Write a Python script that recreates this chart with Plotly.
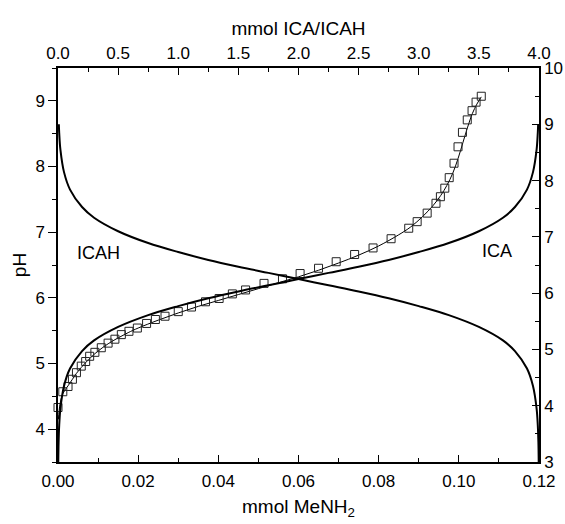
import plotly.graph_objects as go

# Titration data: mmol MeNH2 added vs measured pH
mmol_menh2 = [0.0000, 0.0012, 0.0025, 0.0036, 0.0046, 0.0058, 0.0069, 0.0079, 0.0092, 0.0108,
              0.0125, 0.0142, 0.0158, 0.0177, 0.0198, 0.0221, 0.0243, 0.0267, 0.0300, 0.0333,
              0.0368, 0.0402, 0.0435, 0.0468, 0.0514, 0.0560, 0.0604, 0.0650, 0.0694, 0.0740,
              0.0786, 0.0831, 0.0875, 0.0896, 0.0921, 0.0943, 0.0954, 0.0965, 0.0976, 0.0988,
              0.0998, 0.1009, 0.1021, 0.1033, 0.1043, 0.1056]
ph_measured = [4.33, 4.57, 4.65, 4.76, 4.86, 4.96, 5.03, 5.11, 5.17, 5.24,
               5.31, 5.37, 5.44, 5.49, 5.54, 5.61, 5.67, 5.72, 5.79, 5.86,
               5.94, 5.99, 6.06, 6.12, 6.22, 6.29, 6.37, 6.45, 6.55, 6.66,
               6.76, 6.90, 7.06, 7.16, 7.29, 7.44, 7.54, 7.67, 7.83, 8.05,
               8.30, 8.52, 8.71, 8.85, 8.98, 9.07]

# Fitted titration curve
fit_x = [0.0001, 0.0005, 0.0012, 0.0025, 0.0036, 0.0046, 0.0058, 0.0070, 0.0085, 0.0100,
         0.0125, 0.0150, 0.0175, 0.0200, 0.0250, 0.0300, 0.0350, 0.0400, 0.0450, 0.0500,
         0.0550, 0.0600, 0.0650, 0.0700, 0.0750, 0.0800, 0.0850, 0.0880, 0.0910, 0.0935,
         0.0955, 0.0970, 0.0985, 0.0998, 0.1010, 0.1022, 0.1034, 0.1045, 0.1056]
fit_ph = [4.15, 4.38, 4.54, 4.66, 4.76, 4.85, 4.94, 5.02, 5.11, 5.19,
          5.30, 5.39, 5.47, 5.54, 5.66, 5.77, 5.87, 5.96, 6.05, 6.14,
          6.23, 6.32, 6.42, 6.53, 6.65, 6.79, 6.96, 7.08, 7.24, 7.40,
          7.56, 7.71, 7.90, 8.12, 8.36, 8.60, 8.81, 8.95, 9.06]

# Species curves: mmol ICA/ICAH (top axis) vs pH (right axis)
ica_x = [0.0023, 0.005, 0.01, 0.02, 0.05, 0.1, 0.2, 0.3, 0.5, 0.75,
         1.0, 1.25, 1.5, 1.75, 2.0, 2.25, 2.5, 2.75, 3.0, 3.25,
         3.5, 3.7, 3.8, 3.9, 3.95, 3.98, 3.99, 3.993]
ica_ph = [3.00, 3.35, 3.65, 3.95, 4.35, 4.66, 4.97, 5.16, 5.40, 5.61,
          5.77, 5.91, 6.03, 6.14, 6.25, 6.36, 6.47, 6.59, 6.73, 6.89,
          7.10, 7.34, 7.53, 7.84, 8.15, 8.55, 8.85, 9.00]
icah_x = [0.007, 0.01, 0.02, 0.05, 0.1, 0.2, 0.3, 0.5, 0.75, 1.0,
          1.25, 1.5, 1.75, 2.0, 2.25, 2.5, 2.75, 3.0, 3.25, 3.5,
          3.7, 3.8, 3.9, 3.95, 3.98, 3.99, 3.995, 3.9977]
icah_ph = [9.00, 8.85, 8.55, 8.15, 7.84, 7.53, 7.34, 7.10, 6.89, 6.73,
           6.59, 6.47, 6.36, 6.25, 6.14, 6.03, 5.91, 5.77, 5.61, 5.40,
           5.16, 4.97, 4.66, 4.35, 3.95, 3.65, 3.35, 3.00]

bottom_ticks = [0.00, 0.02, 0.04, 0.06, 0.08, 0.10, 0.12]
bottom_labels = ["0.00", "0.02", "0.04", "0.06", "0.08", "0.10", "0.12"]

FONT = "Liberation Sans, Arial, sans-serif"

fig = go.Figure()

fig.add_trace(go.Scatter(x=fit_x, y=fit_ph, mode="lines", line=dict(color="black", width=1, shape="spline"),
                         xaxis="x", yaxis="y", showlegend=False))
fig.add_trace(go.Scatter(x=mmol_menh2, y=ph_measured, mode="markers",
                         marker=dict(symbol="square-open", size=8, color="#222222", line=dict(width=1)),
                         xaxis="x", yaxis="y", showlegend=False, cliponaxis=False))
fig.add_trace(go.Scatter(x=ica_x, y=ica_ph, mode="lines", line=dict(color="black", width=2, shape="spline"),
                         xaxis="x2", yaxis="y2", showlegend=False))
fig.add_trace(go.Scatter(x=icah_x, y=icah_ph, mode="lines", line=dict(color="black", width=2, shape="spline"),
                         xaxis="x2", yaxis="y2", showlegend=False))

axis_common = dict(showline=True, linecolor="black", linewidth=1.5, showgrid=False, zeroline=False,
                   automargin=False, tickcolor="black", tickwidth=1.2,
                   tickfont=dict(family=FONT, size=17, color="black"))

fig.update_layout(
    width=565, height=524,
    margin=dict(l=58, r=26, t=68, b=62, autoexpand=False),
    paper_bgcolor="white", plot_bgcolor="white",
    font=dict(family=FONT, color="black"),
    xaxis=dict(range=[0, 0.12], tickmode="array", tickvals=bottom_ticks, ticktext=bottom_labels,
               ticks="inside", ticklen=7, ticklabelstandoff=3,
               minor=dict(dtick=0.01, ticks="inside", ticklen=4, tickcolor="black", tickwidth=1.2),
               title=dict(text="mmol MeNH<sub>2</sub>", font=dict(family=FONT, size=19), standoff=10),
               **axis_common),
    xaxis2=dict(range=[0, 4], overlaying="x", side="top", dtick=0.5, tick0=0, tickformat=".1f",
                ticks="inside", ticklen=7,
                minor=dict(dtick=0.25, ticks="inside", ticklen=4, tickcolor="black", tickwidth=1.2),
                title=dict(text="mmol ICA/ICAH", font=dict(family=FONT, size=19), standoff=4),
                **axis_common),
    yaxis=dict(range=[3.5, 9.5], dtick=1, tick0=0, ticks="outside", ticklen=8,
               minor=dict(dtick=0.5, ticks="outside", ticklen=4, tickcolor="black", tickwidth=1.2),
               title=dict(text="pH", font=dict(family=FONT, size=19), standoff=4),
               **axis_common),
    yaxis2=dict(range=[3, 10], overlaying="y", side="right", dtick=1, tick0=0, ticks="inside", ticklen=7,
                minor=dict(dtick=0.5, ticks="inside", ticklen=4, tickcolor="black", tickwidth=1.2),
                **axis_common),
    annotations=[
        dict(text="ICAH", x=0.0101, y=6.68, xref="x", yref="y", showarrow=False,
             font=dict(family=FONT, size=18, color="black")),
        dict(text="ICA", x=0.1094, y=6.72, xref="x", yref="y", showarrow=False,
             font=dict(family=FONT, size=18, color="black")),
    ],
)

fig.write_html("out.html")
